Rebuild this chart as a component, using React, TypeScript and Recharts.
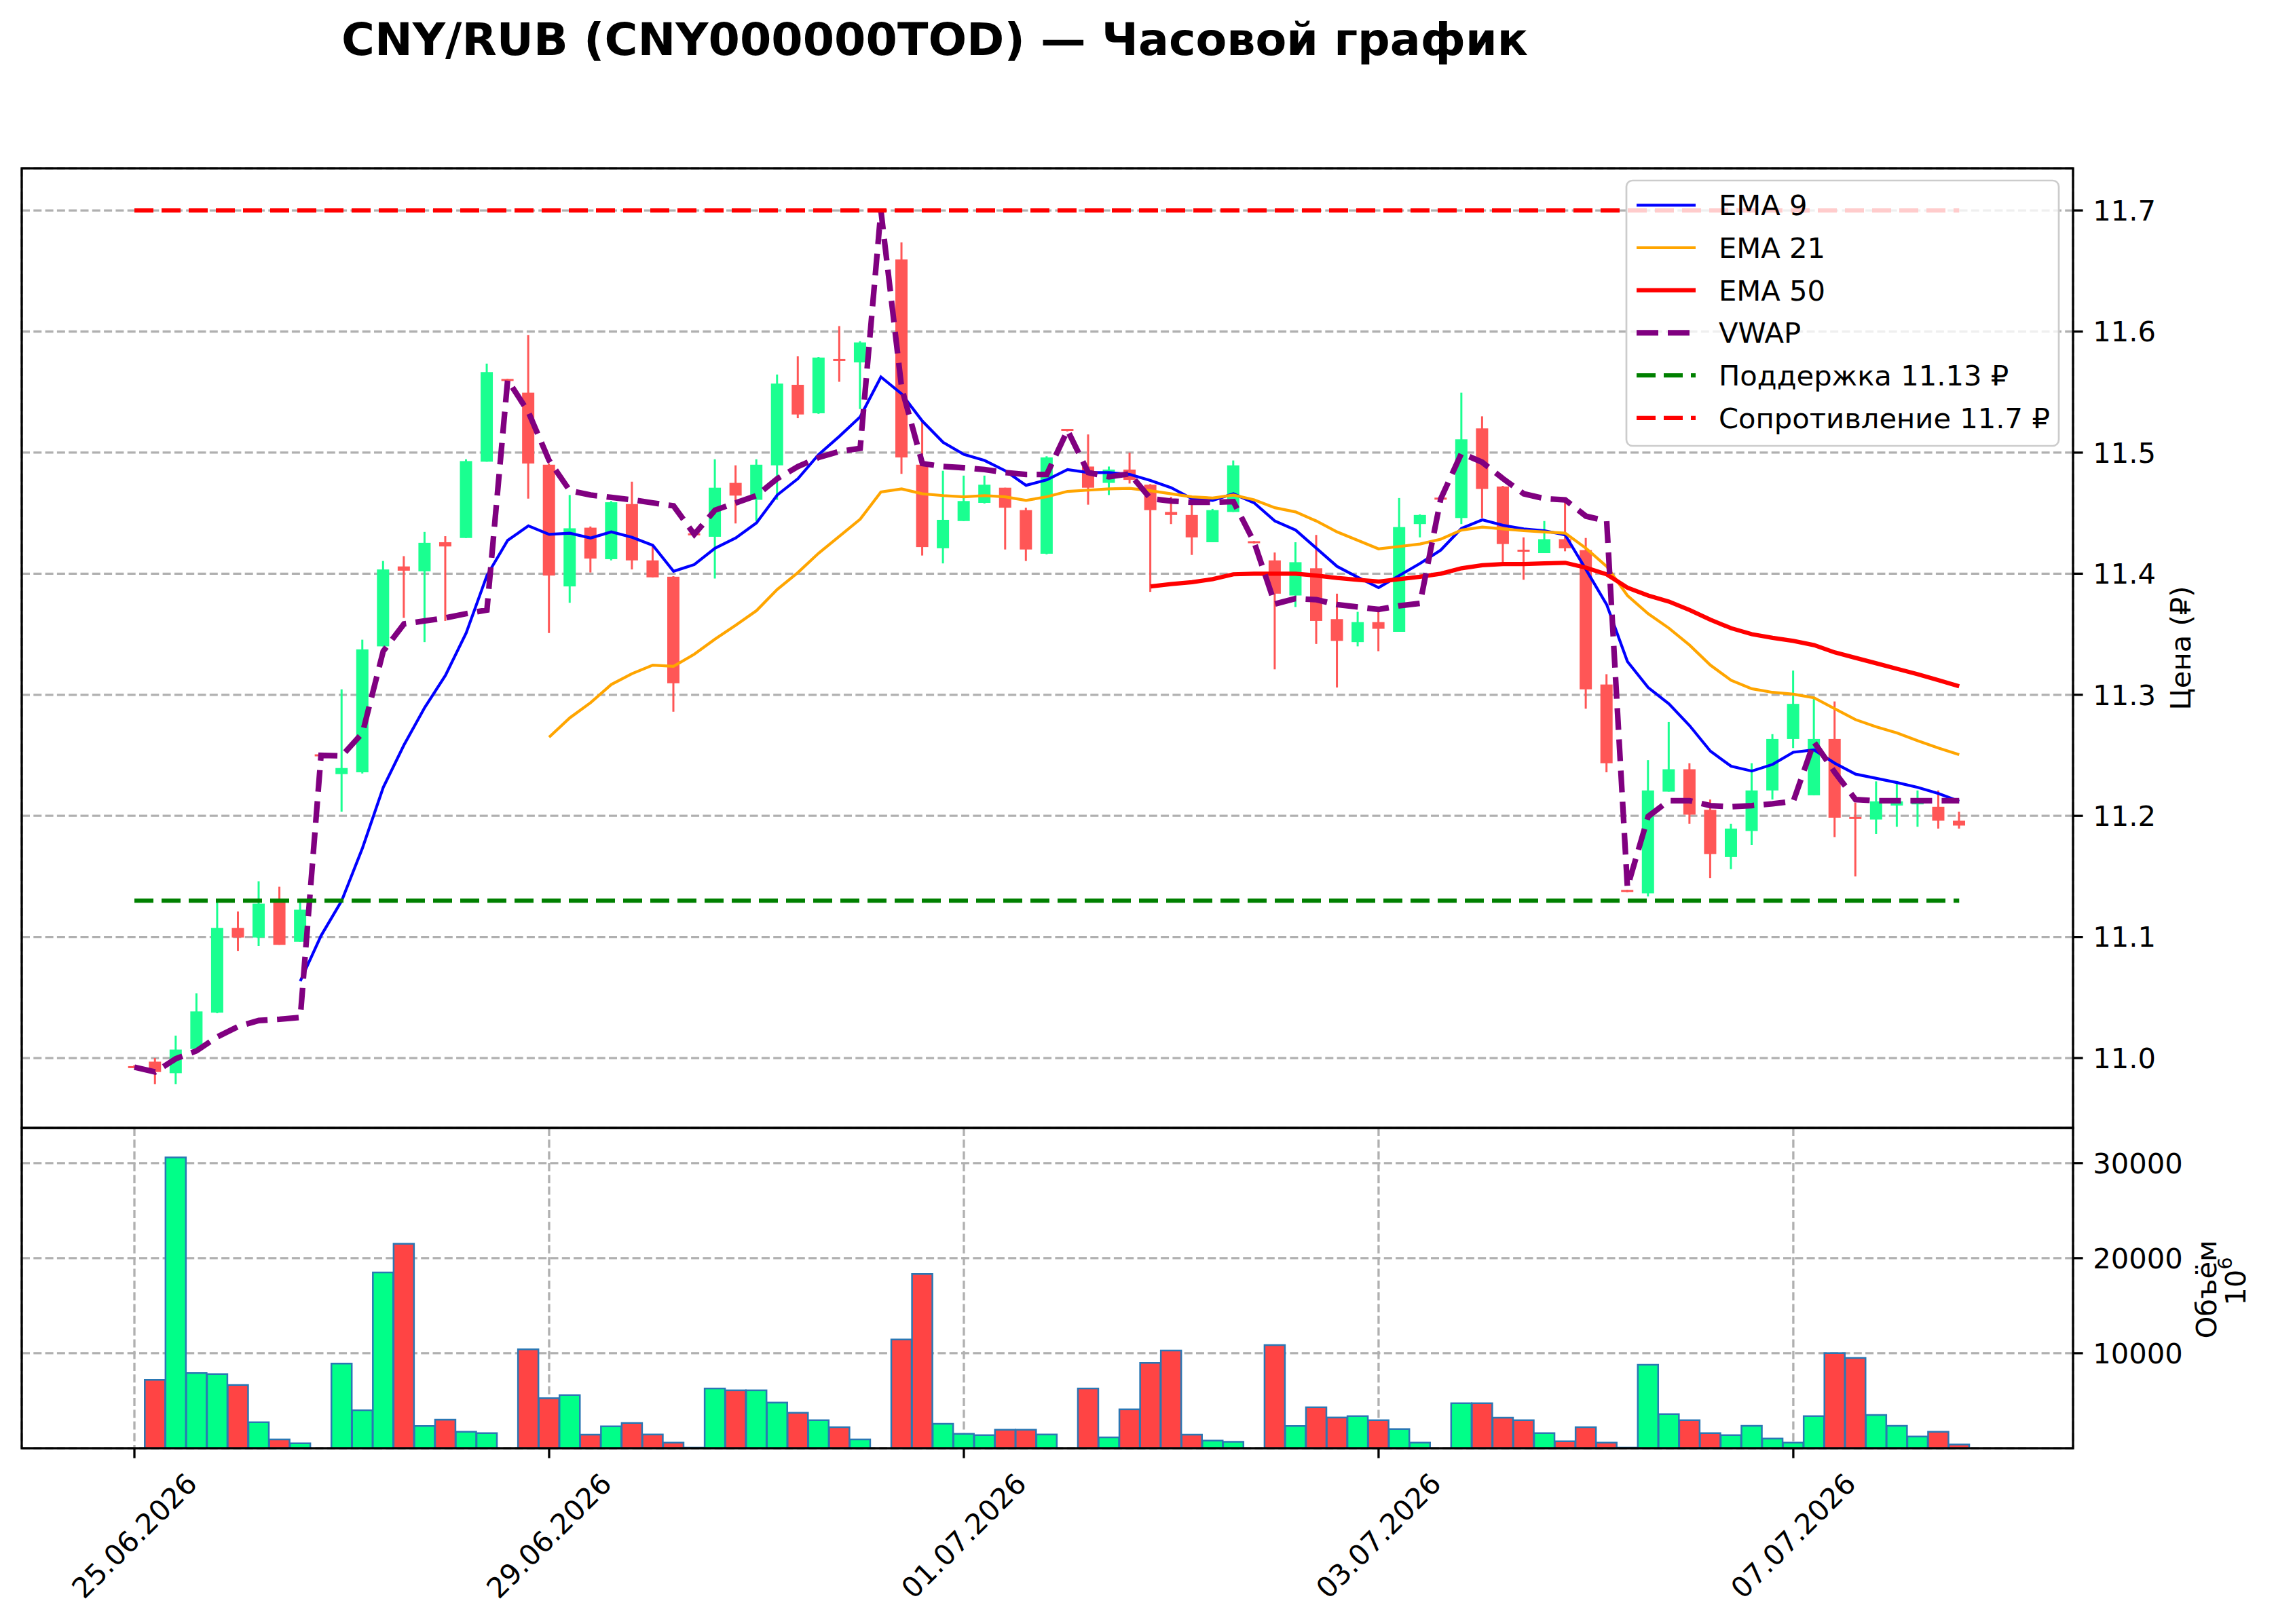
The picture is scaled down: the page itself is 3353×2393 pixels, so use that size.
import React from 'react';
import { ComposedChart, Bar, Line, XAxis, YAxis, CartesianGrid, Cell } from 'recharts';

const W = 3353;
const H = 2393;
const FONT = '"DejaVu Sans", Verdana, sans-serif';

// hourly candles, index 0..88
const opens = [
  10.993, 10.997, 10.9875, 11.0075, 11.0375, 11.1075, 11.0995, 11.1285, 11.096, 11.2505,
  11.2345, 11.236, 11.34, 11.406, 11.402, 11.426, 11.4295, 11.4925, 11.5605, 11.5495,
  11.49, 11.3895, 11.438, 11.412, 11.4575, 11.411, 11.3975, 11.433, 11.4305, 11.475,
  11.461, 11.4895, 11.556, 11.5325, 11.577, 11.5745, 11.7005, 11.6595, 11.49, 11.421,
  11.4435, 11.4585, 11.471, 11.4525, 11.4165, 11.519, 11.4885, 11.475, 11.486, 11.4735,
  11.451, 11.4485, 11.426, 11.451, 11.4265, 11.411, 11.382, 11.4045, 11.3625, 11.3435,
  11.36, 11.352, 11.441, 11.4625, 11.446, 11.52, 11.472, 11.4195, 11.417, 11.4285,
  11.4195, 11.3085, 11.1385, 11.136, 11.22, 11.2385, 11.205, 11.166, 11.1875, 11.221,
  11.2635, 11.217, 11.2635, 11.199, 11.197, 11.2085, 11.2095, 11.2075, 11.196,
];
const highs = [
  10.994, 11.0, 11.0185, 11.0535, 11.1285, 11.121, 11.146, 11.1415, 11.1285, 11.251,
  11.3045, 11.3455, 11.4105, 11.4145, 11.4345, 11.431, 11.4945, 11.5735, 11.561, 11.597,
  11.491, 11.465, 11.439, 11.46, 11.476, 11.4235, 11.398, 11.4335, 11.4945, 11.4895,
  11.4945, 11.5645, 11.5795, 11.579, 11.6045, 11.592, 11.701, 11.6735, 11.527, 11.485,
  11.481, 11.481, 11.471, 11.4545, 11.497, 11.5195, 11.515, 11.4885, 11.5, 11.474,
  11.4635, 11.4635, 11.4535, 11.4935, 11.427, 11.4175, 11.426, 11.432, 11.3835, 11.3685,
  11.3685, 11.4625, 11.449, 11.463, 11.5495, 11.53, 11.4725, 11.43, 11.4435, 11.461,
  11.4295, 11.317, 11.139, 11.246, 11.2775, 11.2435, 11.2135, 11.1935, 11.2435, 11.2675,
  11.32, 11.2985, 11.2945, 11.211, 11.2285, 11.2285, 11.221, 11.221, 11.2035,
];
const lows = [
  10.992, 10.9785, 10.9785, 11.006, 11.037, 11.0885, 11.0925, 11.0935, 11.096, 11.249,
  11.2035, 11.235, 11.34, 11.3635, 11.3435, 11.361, 11.4295, 11.4925, 11.559, 11.462,
  11.351, 11.376, 11.401, 11.411, 11.4035, 11.397, 11.286, 11.4315, 11.396, 11.4415,
  11.4435, 11.461, 11.5285, 11.532, 11.5585, 11.536, 11.699, 11.4825, 11.415, 11.4085,
  11.4435, 11.458, 11.42, 11.4105, 11.416, 11.5175, 11.457, 11.465, 11.4745, 11.385,
  11.441, 11.4155, 11.426, 11.451, 11.425, 11.321, 11.3725, 11.342, 11.306, 11.34,
  11.336, 11.352, 11.43, 11.461, 11.441, 11.446, 11.4085, 11.395, 11.417, 11.4185,
  11.2885, 11.236, 11.137, 11.1335, 11.22, 11.1935, 11.1485, 11.156, 11.176, 11.2135,
  11.256, 11.217, 11.1825, 11.15, 11.185, 11.191, 11.191, 11.1895, 11.1895,
];
const closes = [
  10.992, 10.9885, 11.007, 11.0385, 11.1075, 11.0995, 11.1275, 11.0935, 11.1225, 11.2495,
  11.2395, 11.3375, 11.4035, 11.4025, 11.4255, 11.4225, 11.493, 11.5665, 11.5595, 11.491,
  11.3985, 11.4375, 11.4125, 11.459, 11.411, 11.397, 11.3095, 11.432, 11.471, 11.4645,
  11.49, 11.557, 11.5315, 11.5785, 11.576, 11.591, 11.6995, 11.496, 11.422, 11.4445,
  11.46, 11.4735, 11.4545, 11.42, 11.496, 11.5185, 11.471, 11.486, 11.4775, 11.4525,
  11.4485, 11.43, 11.4525, 11.4895, 11.4255, 11.3835, 11.4095, 11.361, 11.3445, 11.36,
  11.3545, 11.4385, 11.4485, 11.4615, 11.511, 11.47, 11.4245, 11.4185, 11.4285, 11.421,
  11.3045, 11.2435, 11.1375, 11.221, 11.2385, 11.201, 11.1685, 11.1895, 11.221, 11.2635,
  11.2925, 11.2635, 11.1985, 11.1975, 11.212, 11.212, 11.212, 11.196, 11.192,
];
const volumes = [
  0, 7200, 30600, 7900, 7800, 6650, 2730, 920, 520, 0,
  8900, 4000, 18500, 21500, 2330, 3000, 1730, 1590, 0, 10400,
  5270, 5580, 1430, 2300, 2660, 1450, 590, 70, 6290, 6080,
  6080, 4800, 3730, 2950, 2210, 930, 0, 11450, 18340, 2570,
  1520, 1380, 1950, 1950, 1450, 0, 6290, 1140, 4090, 8980,
  10290, 1430, 810, 670, 0, 10860, 2330, 4300, 3230, 3370,
  2950, 2020, 590, 0, 4730, 4730, 3210, 2950, 1590, 740,
  2210, 590, 70, 8790, 3590, 2950, 1590, 1380, 2350, 1020,
  590, 3370, 10020, 9500, 3490, 2350, 1240, 1730, 400,
];
const ema9 = [
  null, null, null, null, null, null, null, null, 11.0635, 11.101,
  11.13, 11.1735, 11.2235, 11.2585, 11.2895, 11.316, 11.351, 11.3985, 11.4275, 11.4395,
  11.4325, 11.4335, 11.4295, 11.4345, 11.43, 11.4235, 11.402, 11.4075, 11.421, 11.4295,
  11.442, 11.465, 11.4785, 11.4985, 11.5135, 11.5295, 11.5625, 11.5485, 11.526, 11.5085,
  11.4985, 11.4935, 11.485, 11.473, 11.4775, 11.486, 11.4835, 11.4835, 11.482, 11.477,
  11.471, 11.462, 11.4605, 11.466, 11.4585, 11.4435, 11.436, 11.421, 11.406, 11.397,
  11.3885, 11.3985, 11.4085, 11.4195, 11.4375, 11.4445, 11.44, 11.437, 11.4355, 11.432,
  11.4035, 11.3745, 11.3275, 11.306, 11.2925, 11.2745, 11.2535, 11.241, 11.237, 11.2425,
  11.2525, 11.2545, 11.2435, 11.2345, 11.231, 11.2275, 11.2235, 11.2185, 11.212,
];
const ema21 = [
  null, null, null, null, null, null, null, null, null, null,
  null, null, null, null, null, null, null, null, null, null,
  11.265, 11.281, 11.2935, 11.3085, 11.3175, 11.3245, 11.3235, 11.3335, 11.346, 11.3575,
  11.3695, 11.387, 11.401, 11.417, 11.431, 11.445, 11.4675, 11.47, 11.466, 11.4645,
  11.4635, 11.4645, 11.4635, 11.4605, 11.4635, 11.468, 11.469, 11.47, 11.4705, 11.4685,
  11.466, 11.4635, 11.4625, 11.465, 11.461, 11.4545, 11.451, 11.4435, 11.4345, 11.4275,
  11.4205, 11.4225, 11.4245, 11.4285, 11.436, 11.4385, 11.437, 11.4355, 11.4345, 11.4335,
  11.421, 11.406, 11.382, 11.367, 11.355, 11.341, 11.3245, 11.312, 11.305, 11.302,
  11.3005, 11.2975, 11.2885, 11.2795, 11.2735, 11.2685, 11.262, 11.256, 11.2505,
];
const ema50 = [
  null, null, null, null, null, null, null, null, null, null,
  null, null, null, null, null, null, null, null, null, null,
  null, null, null, null, null, null, null, null, null, null,
  null, null, null, null, null, null, null, null, null, null,
  null, null, null, null, null, null, null, null, null, 11.3895,
  11.3915, 11.393, 11.3955, 11.3995, 11.4, 11.4, 11.4, 11.3985, 11.3965, 11.395,
  11.3935, 11.3955, 11.3975, 11.4, 11.4045, 11.407, 11.408, 11.408, 11.4085, 11.409,
  11.405, 11.3995, 11.3885, 11.382, 11.377, 11.37, 11.362, 11.355, 11.35, 11.347,
  11.3445, 11.341, 11.335, 11.3305, 11.326, 11.3215, 11.317, 11.312, 11.307,
];
const vwap = [
  10.9925, 10.9885, 10.9995, 11.006, 11.0175, 11.026, 11.031, 11.032, 11.0335, 11.25,
  11.2495, 11.2685, 11.336, 11.3585, 11.361, 11.3635, 11.367, 11.37, 11.56, 11.5335,
  11.4935, 11.4685, 11.465, 11.463, 11.461, 11.4585, 11.456, 11.4325, 11.4525, 11.4585,
  11.4645, 11.4785, 11.4885, 11.496, 11.501, 11.5035, 11.7, 11.5535, 11.491, 11.4885,
  11.4875, 11.486, 11.4835, 11.482, 11.482, 11.5185, 11.4835, 11.48, 11.4825, 11.462,
  11.46, 11.459, 11.459, 11.4595, 11.426, 11.375, 11.3795, 11.3785, 11.3745, 11.3725,
  11.3705, 11.3735, 11.3755, 11.462, 11.4995, 11.492, 11.4785, 11.466, 11.462, 11.461,
  11.4475, 11.4435, 11.141, 11.1995, 11.2125, 11.2125, 11.2085, 11.2075, 11.2085, 11.21,
  11.212, 11.261, 11.236, 11.2135, 11.2125, 11.2125, 11.2125, 11.2125, 11.2125,
];
const supportLevel = 11.13;
const resistanceLevel = 11.7;

const tickIndexes = [0, 20, 40, 60, 80];
const tickLabels = ['25.06.2026', '29.06.2026', '01.07.2026', '03.07.2026', '07.07.2026'];
const priceTicks = [11.0, 11.1, 11.2, 11.3, 11.4, 11.5, 11.6, 11.7];
const volumeTicks = [10000, 20000, 30000];

const rows = opens.map((o, i) => ({
  i,
  open: o,
  high: highs[i],
  low: lows[i],
  close: closes[i],
  volume: volumes[i],
  ema9: ema9[i],
  ema21: ema21[i],
  ema50: ema50[i],
  vwap: vwap[i],
}));

const CANDLE_UP = '#1aff90';
const CANDLE_DOWN = '#ff5656';
const VOL_UP = '#00ff88';
const VOL_DOWN = '#ff4444';
const GRID = '#b0b0b0';
const GRID_DASH = '12 5.3';

const X_DOMAIN: [number, number] = [-5.434, 93.49];

function Candle(props: any) {
  const { x, y, width, height, payload } = props;
  if (x == null || y == null || !payload) return null;
  const top = Math.min(y, y + height);
  const h = Math.abs(height);
  const { open, close, high, low } = payload;
  const span = high - low || 1;
  const py = (p: number) => top + ((high - p) / span) * h;
  const color = close >= open ? CANDLE_UP : CANDLE_DOWN;
  const cx = x + width / 2;
  let bTop = py(Math.max(open, close));
  let bH = py(Math.min(open, close)) - bTop;
  if (bH < 3) {
    bTop -= (3 - bH) / 2;
    bH = 3;
  }
  return (
    <g>
      <line x1={cx} x2={cx} y1={top} y2={top + h} stroke={color} strokeWidth={3} />
      <rect x={x} y={bTop} width={width} height={bH} fill={color} />
    </g>
  );
}

function DateTick(props: any) {
  const { x, payload } = props;
  const k = tickIndexes.indexOf(payload.value);
  const label = k >= 0 ? tickLabels[k] : '';
  const cy = 601;
  return (
    <text
      x={x}
      y={cy}
      transform={`rotate(-45 ${x} ${cy})`}
      textAnchor="middle"
      dominantBaseline="central"
      fontFamily={FONT}
      fontSize={41.7}
      fill="#000"
    >
      {label}
    </text>
  );
}

const legendItems = [
  { label: 'EMA 9', color: '#0000ff', width: 4.2, dash: undefined as string | undefined },
  { label: 'EMA 21', color: '#ffa500', width: 4.2, dash: undefined },
  { label: 'EMA 50', color: '#ff0000', width: 6.25, dash: undefined },
  { label: 'VWAP', color: '#800080', width: 8.3, dash: '32 14' },
  { label: `Поддержка ${supportLevel} ₽`, color: '#008000', width: 6.25, dash: '28 12' },
  { label: `Сопротивление ${resistanceLevel} ₽`, color: '#ff0000', width: 6.25, dash: '28 12' },
];

const tickStyle = { fontFamily: FONT, fontSize: 41.7, fill: '#000' };

export default function App() {
  return (
    <div style={{ position: 'absolute', left: 0, top: 0, width: W, height: H, background: '#fff', overflow: 'hidden' }}>
      <div style={{ position: 'absolute', left: 0, top: 0 }}>
        <ComposedChart width={W} height={1662} data={rows} margin={{ top: 248, right: 99, bottom: 0, left: 32 }}>
          <CartesianGrid stroke={GRID} strokeWidth={3.3} strokeDasharray={GRID_DASH} />
          <XAxis
            type="number"
            dataKey="i"
            domain={X_DOMAIN}
            ticks={tickIndexes}
            allowDataOverflow
            height={0}
            tick={false}
            tickLine={false}
            axisLine={false}
          />
          <YAxis
            orientation="right"
            width={200}
            domain={[10.9423, 11.7348]}
            allowDataOverflow
            ticks={priceTicks}
            tickFormatter={(v: number) => v.toFixed(1)}
            tick={tickStyle}
            tickSize={14.6}
            tickMargin={14.6}
            tickLine={{ stroke: '#000', strokeWidth: 3.3 }}
            axisLine={false}
          />
          <Bar
            dataKey={(d: any) => [d.low, d.high]}
            barSize={18}
            shape={<Candle />}
            isAnimationActive={false}
          />
          <Line dataKey="ema9" stroke="#0000ff" strokeWidth={4.2} dot={false} activeDot={false} isAnimationActive={false} />
          <Line dataKey="ema21" stroke="#ffa500" strokeWidth={4.2} dot={false} activeDot={false} isAnimationActive={false} />
          <Line dataKey="ema50" stroke="#ff0000" strokeWidth={6.25} dot={false} activeDot={false} isAnimationActive={false} />
          <Line dataKey="vwap" stroke="#800080" strokeWidth={8.3} strokeDasharray="32 14" dot={false} activeDot={false} isAnimationActive={false} />
          <Line dataKey={() => supportLevel} stroke="#008000" strokeWidth={6.25} strokeDasharray="28 12" dot={false} activeDot={false} isAnimationActive={false} />
          <Line dataKey={() => resistanceLevel} stroke="#ff0000" strokeWidth={6.25} strokeDasharray="28 12" dot={false} activeDot={false} isAnimationActive={false} />
        </ComposedChart>
      </div>

      <div style={{ position: 'absolute', left: 0, top: 1662 }}>
        <ComposedChart width={W} height={732} data={rows} margin={{ top: 0, right: 99, bottom: 0, left: 32 }}>
          <CartesianGrid stroke={GRID} strokeWidth={3.3} strokeDasharray={GRID_DASH} />
          <XAxis
            type="number"
            dataKey="i"
            domain={X_DOMAIN}
            ticks={tickIndexes}
            interval={0}
            allowDataOverflow
            height={260}
            tick={<DateTick />}
            tickSize={14.6}
            tickLine={{ stroke: '#000', strokeWidth: 3.3 }}
            axisLine={false}
          />
          <YAxis
            orientation="right"
            width={200}
            domain={[0, 33700]}
            allowDataOverflow
            ticks={volumeTicks}
            tick={tickStyle}
            tickSize={14.6}
            tickMargin={14.6}
            tickLine={{ stroke: '#000', strokeWidth: 3.3 }}
            axisLine={false}
          />
          <Bar dataKey="volume" barSize={30} stroke="#2a77b4" strokeWidth={2.5} isAnimationActive={false}>
            {rows.map((r) => (
              <Cell key={`v-${r.i}`} fill={r.close >= r.open ? VOL_UP : VOL_DOWN} />
            ))}
          </Bar>
        </ComposedChart>
      </div>

      <svg width={W} height={H} style={{ position: 'absolute', left: 0, top: 0, pointerEvents: 'none' }}>
        <text x={1377} y={81} textAnchor="middle" fontFamily={FONT} fontWeight="bold" fontSize={66.7} fill="#000">
          CNY/RUB (CNY000000TOD) — Часовой график
        </text>

        <rect x={32} y={248} width={3022} height={1414} fill="none" stroke="#000" strokeWidth={3.3} />
        <rect x={32} y={1662} width={3022} height={472} fill="none" stroke="#000" strokeWidth={3.3} />

        <g>
          <rect x={2396} y={266} width={637} height={391} rx={9} fill="#fff" fillOpacity={0.8} stroke="#cccccc" strokeWidth={2.7} />
          {legendItems.map((it, k) => {
            const ry = 302.3 + k * 62.7;
            return (
              <g key={it.label}>
                <line x1={2411} x2={2498} y1={ry} y2={ry} stroke={it.color} strokeWidth={it.width} strokeDasharray={it.dash} />
                <text x={2532} y={ry + 15} fontFamily={FONT} fontSize={41.7} fill="#000">
                  {it.label}
                </text>
              </g>
            );
          })}
        </g>

        <text
          x={3212}
          y={955}
          transform="rotate(-90 3212 955)"
          textAnchor="middle"
          dominantBaseline="central"
          fontFamily={FONT}
          fontSize={41.7}
          fill="#000"
        >
          Цена (₽)
        </text>
        <text
          x={3250}
          y={1900}
          transform="rotate(-90 3250 1900)"
          textAnchor="middle"
          dominantBaseline="central"
          fontFamily={FONT}
          fontSize={41.7}
          fill="#000"
        >
          Объём
        </text>
        <text
          x={3293}
          y={1888}
          transform="rotate(-90 3293 1888)"
          textAnchor="middle"
          dominantBaseline="central"
          fontFamily={FONT}
          fontSize={41.7}
          fill="#000"
        >
          10
          <tspan fontSize={29} dy={-15}>6</tspan>
        </text>
      </svg>
    </div>
  );
}
